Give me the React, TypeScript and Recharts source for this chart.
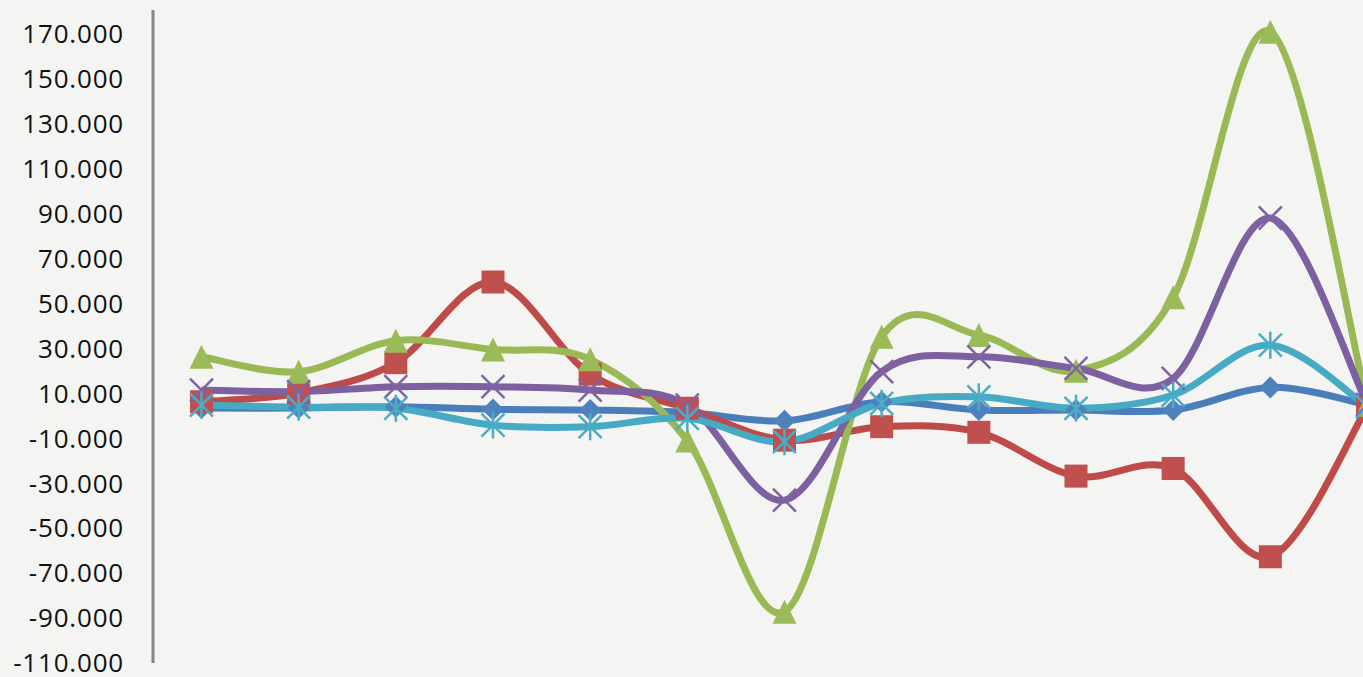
import { LineChart, Line, XAxis, YAxis } from 'recharts';

const categories = ['1', '2', '3', '4', '5', '6', '7', '8', '9', '10', '11', '12', '13'];

const blueSeries = [3.5, 3.5, 4.1, 2.9, 2.6, 1.5, -2.2, 6.3, 2.6, 2.6, 2.6, 12.7, 5];
const redSeries = [6.3, 10.2, 23.7, 59.6, 18.6, 3.4, -10.8, -4.8, -7.3, -26.8, -23.4, -62.7, 4];
const greenSeries = [26.3, 19.7, 33.5, 29.6, 25.2, -11, -87.2, 35.2, 36, 20.1, 52.8, 171, 5];
const purpleSeries = [11.5, 10.8, 13, 13, 11.5, 4.8, -37.5, 19.7, 26.3, 21.2, 16.7, 88.1, 5];
const cyanSeries = [4.8, 3.9, 3.4, -4.1, -4.8, -1.1, -11.5, 5.6, 8.5, 3.4, 9.3, 31.5, 4];

const yTicks = [-110, -90, -70, -50, -30, -10, 10, 30, 50, 70, 90, 110, 130, 150, 170];

const chartData = categories.map((cat, i) => ({
  cat,
  blue: blueSeries[i],
  red: redSeries[i],
  green: greenSeries[i],
  purple: purpleSeries[i],
  cyan: cyanSeries[i],
}));

// excel-ish smoothing: bezier with control points at 1/6 of the neighbour chord
function excelSmooth(context: any) {
  let pts: number[][] = [];
  return {
    areaStart() {},
    areaEnd() {},
    lineStart() {
      pts = [];
    },
    point(x: number, y: number) {
      pts.push([+x, +y]);
    },
    lineEnd() {
      const n = pts.length;
      if (!n) return;
      context.moveTo(pts[0][0], pts[0][1]);
      for (let i = 0; i < n - 1; i++) {
        const p0 = pts[i - 1] || pts[i];
        const p1 = pts[i];
        const p2 = pts[i + 1];
        const p3 = pts[i + 2] || p2;
        context.bezierCurveTo(
          p1[0] + (p2[0] - p0[0]) / 6,
          p1[1] + (p2[1] - p0[1]) / 6,
          p2[0] - (p3[0] - p1[0]) / 6,
          p2[1] - (p3[1] - p1[1]) / 6,
          p2[0],
          p2[1]
        );
      }
    },
  };
}

const Diamond = (props: any) => {
  const { cx, cy, index } = props;
  const s = 11;
  return (
    <path
      key={`dm-${index}`}
      d={`M${cx},${cy - s}L${cx + s},${cy}L${cx},${cy + s}L${cx - s},${cy}Z`}
      fill="#4F81BD"
    />
  );
};

const Square = (props: any) => {
  const { cx, cy, index } = props;
  const s = 11.5;
  return <rect key={`sq-${index}`} x={cx - s} y={cy - s} width={s * 2} height={s * 2} fill="#C0504D" />;
};

const Triangle = (props: any) => {
  const { cx, cy, index } = props;
  const w = 12;
  const h = 12;
  return (
    <path
      key={`tr-${index}`}
      d={`M${cx},${cy - h}L${cx + w},${cy + h}L${cx - w},${cy + h}Z`}
      fill="#9BBB59"
    />
  );
};

const Cross = (props: any) => {
  const { cx, cy, index } = props;
  const s = 11.5;
  return (
    <path
      key={`x-${index}`}
      d={`M${cx - s},${cy - s}L${cx + s},${cy + s}M${cx + s},${cy - s}L${cx - s},${cy + s}`}
      stroke="#8064A2"
      strokeWidth={2.5}
      fill="none"
    />
  );
};

const Star = (props: any) => {
  const { cx, cy, index } = props;
  const s = 11.5;
  return (
    <path
      key={`st-${index}`}
      d={`M${cx - s},${cy - s}L${cx + s},${cy + s}M${cx + s},${cy - s}L${cx - s},${cy + s}M${cx},${cy - s - 2}L${cx},${cy + s + 2}`}
      stroke="#4BACC6"
      strokeWidth={2.5}
      fill="none"
    />
  );
};

export default function App() {
  return (
    <div
      style={{
        position: 'fixed',
        left: 0,
        top: 0,
        width: 1363,
        height: 677,
        overflow: 'hidden',
        background: '#f4f4f3',
      }}
    >
      <LineChart width={1416} height={677} data={chartData} margin={{ top: 10, right: 0, bottom: 14, left: 0 }}>
        <XAxis dataKey="cat" hide padding={{ left: 48.5, right: 48.5 }} />
        <YAxis
          width={153}
          domain={[-110, 180.7]}
          ticks={yTicks}
          interval={0}
          tickFormatter={(v: number) => v.toFixed(3)}
          tickLine={false}
          tickSize={0}
          tickMargin={29}
          axisLine={{ stroke: '#868686', strokeWidth: 3 }}
          tick={{ fontFamily: 'Open Sans', fontSize: 26, fill: '#111', letterSpacing: 0.8 }}
        />
        <Line dataKey="blue" type={excelSmooth as any} stroke="#4A7EBB" strokeWidth={7} dot={Diamond} activeDot={false} isAnimationActive={false} />
        <Line dataKey="red" type={excelSmooth as any} stroke="#BE4B48" strokeWidth={7} dot={Square} activeDot={false} isAnimationActive={false} />
        <Line dataKey="green" type={excelSmooth as any} stroke="#98B954" strokeWidth={7} dot={Triangle} activeDot={false} isAnimationActive={false} />
        <Line dataKey="purple" type={excelSmooth as any} stroke="#7D60A0" strokeWidth={7} dot={Cross} activeDot={false} isAnimationActive={false} />
        <Line dataKey="cyan" type={excelSmooth as any} stroke="#46AAC5" strokeWidth={7} dot={Star} activeDot={false} isAnimationActive={false} />
      </LineChart>
    </div>
  );
}
